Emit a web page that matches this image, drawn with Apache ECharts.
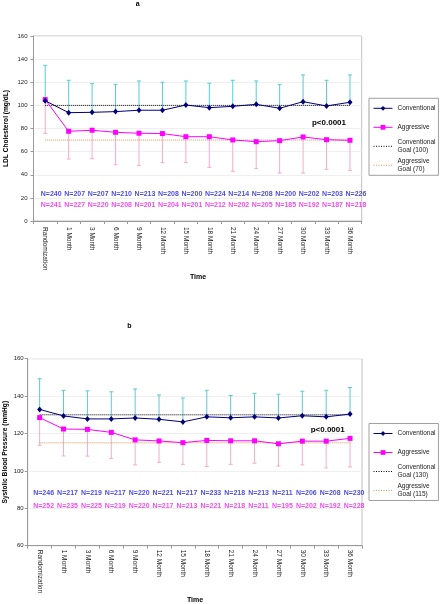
<!DOCTYPE html>
<html><head><meta charset="utf-8">
<script src="https://cdn.jsdelivr.net/npm/echarts/dist/echarts.min.js"></script>
<style>html,body{margin:0;padding:0;background:#fff}#c{width:441px;height:604px}</style>
</head><body><div id="c"></div><script>
const categories = ['Randomization','1 Month','3 Month','6 Month','9 Month','12 Month','15 Month','18 Month','21 Month','24 Month','27 Month','30 Month','33 Month','36 Month'];
// Panel a: LDL cholesterol
const ldlConventional = [104,93.7,94.0,94.6,95.8,95.8,100.3,98.0,99.2,100.9,97.5,103.2,99.5,102.7];
const ldlConventionalUpper = [134.7,121.7,118.8,118.2,121.1,120,121.1,119.1,121.7,121.1,118.2,126.3,121.7,126.3];
const ldlAggressive = [105,77.6,78.5,76.7,75.9,75.6,72.9,72.9,70.1,68.6,69.5,72.7,70.3,69.8];
const ldlAggressiveLower = [75.8,53.6,53.8,48.7,47.9,50.5,50.5,46.4,43,45.3,41.5,41.5,44.7,43.8];
const ldlGoals = [100, 70];
const ldlNConventional = [240,207,207,210,213,208,200,224,214,208,200,202,203,226];
const ldlNAggressive = [241,227,220,208,201,204,201,212,202,205,185,192,187,218];
const ldlYTicks = [0,20,40,60,80,100,120,140,160];
// Panel b: systolic blood pressure
const sbpConventional = [132.9,129.4,127.8,127.8,128.3,127.6,126.2,128.9,128.4,128.9,128.3,129.5,128.9,130.4];
const sbpConventionalUpper = [149.3,143.1,142.8,142.3,143.8,140.6,139.0,143.1,140.3,141.5,141.0,142.6,143.1,144.6];
const sbpAggressive = [128.5,122.4,122.2,120.6,116.6,116,115.1,116.3,116.1,116.1,114.5,115.9,115.9,117.4];
const sbpAggressiveLower = [113.7,108,107.9,106.7,103.2,104.6,103.5,102.4,103.5,104.1,102.6,103.2,101.6,102.1];
const sbpGoals = [130, 115];
const sbpNConventional = [246,217,219,217,220,221,217,233,218,213,211,206,208,230];
const sbpNAggressive = [252,235,225,219,220,217,213,221,218,211,195,202,192,228];
const sbpYTicks = [60,80,100,120,140,160];

const FONT = 'Arial, "Liberation Sans", sans-serif';
const NAVY = '#000080', MAG = '#ff00ff', CYAN = '#55ccd8', PINK = '#f7abcb';
const GOALC = '#000000', GOALA = '#d8964e';

function errBar(color){
  return function(params, api){
    const x = api.value(0), m = api.value(1), b = api.value(2);
    const p1 = api.coord([x, m]), p2 = api.coord([x, b]);
    const cap = 2;
    return {type:'group', children:[
      {type:'line', shape:{x1:p1[0],y1:p1[1],x2:p2[0],y2:p2[1]}, style:{stroke:color,lineWidth:1}},
      {type:'line', shape:{x1:p2[0]-cap,y1:p2[1],x2:p2[0]+cap,y2:p2[1]}, style:{stroke:color,lineWidth:1}}
    ]};
  };
}

function panelSeries(idx, conv, convUp, aggr, aggrLo, goals, nC, nA, nLevels, labelDx){
  const ax = {xAxisIndex: idx, yAxisIndex: idx};
  return [
    Object.assign({type:'custom', renderItem: errBar(CYAN), z:1, silent:true,
      encode:{x:0, y:[1,2]}, data: categories.map((c,i)=>[i, conv[i], convUp[i]])}, ax),
    Object.assign({type:'custom', renderItem: errBar(PINK), z:1, silent:true,
      encode:{x:0, y:[1,2]}, data: categories.map((c,i)=>[i, aggr[i], aggrLo[i]])}, ax),
    Object.assign({type:'line', name:'Conventional Goal (' + goals[0] + ')', z:2, symbol:'none',
      lineStyle:{color:GOALC, width:1, type:'dotted'}, itemStyle:{color:GOALC},
      data: categories.map(()=>goals[0])}, ax),
    Object.assign({type:'line', name:'Aggressive Goal (' + goals[1] + ')', z:2, symbol:'none',
      lineStyle:{color:GOALA, width:1, type:'dotted'}, itemStyle:{color:GOALA},
      data: categories.map(()=>goals[1])}, ax),
    Object.assign({type:'line', name:'Aggressive', z:3, symbol:'rect', symbolSize:5,
      lineStyle:{color:MAG, width:1}, itemStyle:{color:MAG}, data: aggr}, ax),
    Object.assign({type:'line', name:'Conventional', z:4, symbol:'diamond', symbolSize:[5,6],
      lineStyle:{color:NAVY, width:1}, itemStyle:{color:NAVY}, data: conv}, ax),
    Object.assign({type:'scatter', symbolSize:0, z:5, silent:true,
      label:{show:true, position:'inside', offset:[labelDx,0], color:'#2020d8', fontFamily:FONT, fontSize:7, fontWeight:'bold',
        formatter: p => 'N=' + nC[p.dataIndex]},
      data: categories.map((c,i)=>[i, nLevels[0]])}, ax),
    Object.assign({type:'scatter', symbolSize:0, z:5, silent:true,
      label:{show:true, position:'inside', offset:[labelDx,0], color:'#ee22ee', fontFamily:FONT, fontSize:7, fontWeight:'bold',
        formatter: p => 'N=' + nA[p.dataIndex]},
      data: categories.map((c,i)=>[i, nLevels[1]])}, ax)
  ];
}

function xAx(idx, margin){
  return {type:'category', gridIndex:idx, data:categories, boundaryGap:true,
    axisLine:{show:true, lineStyle:{color:'#999', width:1}},
    axisTick:{show:true, length:3, lineStyle:{color:'#999'}},
    axisLabel:{interval:0, rotate:-90, margin:margin, fontSize:6.5, color:'#222', fontFamily:FONT},
    splitLine:{show:false}};
}
function yAx(idx, ticks, margin){
  return {type:'value', gridIndex:idx, min:ticks[0], max:ticks[ticks.length-1], interval:ticks[1]-ticks[0],
    axisLine:{show:true, lineStyle:{color:'#999', width:1}},
    axisTick:{show:true, length:3, lineStyle:{color:'#999'}},
    axisLabel:{margin:margin, fontSize:6, color:'#222', fontFamily:FONT},
    splitLine:{show:true, lineStyle:{color:'#efefef', width:1}}};
}
function mkLegend(names, top){
  const data = names.map(n => n.indexOf('Goal') >= 0
    ? {name:n, itemStyle:{opacity:0, borderWidth:0},
       lineStyle:{width:1, type:[1,1.5], color: n.indexOf('Conventional') === 0 ? GOALC : GOALA}}
    : {name:n});
  return {data, left:369, top, orient:'vertical', itemWidth:19, itemHeight:6, itemGap:3,
    padding:[2,3,2,4], borderColor:'#a0a0a0', borderWidth:1, selectedMode:false,
    lineStyle:{width:1},
    textStyle:{fontFamily:FONT, fontSize:6.5, lineHeight:8, color:'#222',
      rich:{t:{fontFamily:FONT, fontSize:6.5, lineHeight:16, color:'#222'}}},
    formatter: name => name.indexOf('Goal') >= 0 ? name.replace(' Goal', '\nGoal') : '{t|' + name + '}'};
}
function txt(x, y, text, size, opts){
  return Object.assign({type:'text', x, y, silent:true,
    style:{text, fill:'#000', font:'bold ' + size + 'px ' + FONT, textAlign:'center', textVerticalAlign:'middle'}}, opts || {});
}

const chart = echarts.init(document.getElementById('c'), null, {renderer:'canvas'});
chart.setOption({
  animation:false,
  backgroundColor:'#fff',
  grid:[
    {left:33.5, top:36, width:328.2, height:185, show:true, borderColor:'#c0c0c0', borderWidth:1, containLabel:false},
    {left:27.7, top:358.7, width:334.3, height:187, show:true, borderColor:'#c0c0c0', borderWidth:1, containLabel:false}
  ],
  xAxis:[xAx(0, 6), xAx(1, 4)],
  yAxis:[yAx(0, ldlYTicks, 6), yAx(1, sbpYTicks, 4)],
  legend:[
    mkLegend(['Conventional','Aggressive','Conventional Goal (100)','Aggressive Goal (70)'], 98.3),
    mkLegend(['Conventional','Aggressive','Conventional Goal (130)','Aggressive Goal (115)'], 423.5)
  ],
  series: [].concat(
    panelSeries(0, ldlConventional, ldlConventionalUpper, ldlAggressive, ldlAggressiveLower, ldlGoals, ldlNConventional, ldlNAggressive, [23.6, 14.1], 6),
    panelSeries(1, sbpConventional, sbpConventionalUpper, sbpAggressive, sbpAggressiveLower, sbpGoals, sbpNConventional, sbpNAggressive, [88.3, 81.4], 4)
  ),
  graphic:[
    txt(137.7, 4, 'a', 7),
    txt(129.3, 326, 'b', 7),
    txt(198, 276.7, 'Time', 7),
    txt(195, 600, 'Time', 7),
    txt(329, 123, 'p<0.0001', 8),
    txt(327.7, 429.3, 'p<0.0001', 8),
    txt(6, 128.5, 'LDL Cholesterol (mg/dL)', 6.6, {rotation: Math.PI/2}),
    txt(5.5, 452.2, 'Systolic Blood Pressure (mmHg)', 6.6, {rotation: Math.PI/2})
  ]
});
</script></body></html>
